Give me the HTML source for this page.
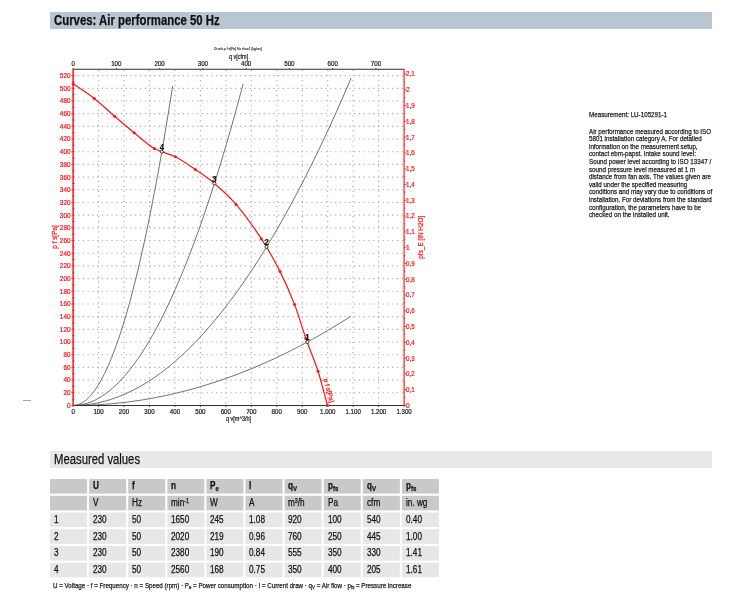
<!DOCTYPE html>
<html lang="en"><head><meta charset="utf-8"><title>Curves: Air performance 50 Hz</title>
<style>
html,body{margin:0;padding:0;background:#fff}
body{width:750px;height:600px;position:relative;overflow:hidden;will-change:transform;-webkit-text-stroke:.25px currentColor;font-family:"Liberation Sans",Arial,sans-serif;color:#111}
.bar{position:absolute;left:50px;width:662.4px;overflow:hidden;white-space:nowrap}
.bar span,.para div,.para p,.legend span{display:inline-block;transform-origin:0 50%;white-space:nowrap}
#t1{top:12px;height:16.8px;background:#b9c5d1;font-weight:bold;font-size:14px;line-height:16.6px}
#t1 span{transform:scaleX(.812);margin-left:4.3px}
#t2{top:451.2px;height:16.8px;background:#e8e8e8;font-size:14px;line-height:17.4px}
#t2 span{transform:scaleX(.807);margin-left:4px}
#chart{position:absolute;left:0;top:0}
#chart text{font-family:"Liberation Sans",Arial,sans-serif;stroke-width:.22px;paint-order:stroke}
.para{position:absolute;left:589.2px;top:111.05px;font-size:7.6px;line-height:7.6px;color:#1a1a1a}
.para div,.para p{display:block;margin:0;transform:scaleX(.822);height:7.6px}
.para p{margin-bottom:9px}
.tbl{position:absolute;z-index:0;left:50.1px;top:478.65px;display:grid;grid-template-columns:repeat(10,37.1px);grid-auto-rows:14.6px;column-gap:2px;row-gap:2.15px;font-size:10px}
.tbg{position:absolute;left:0;top:0;z-index:-1}
.c{line-height:14.8px;overflow:hidden;white-space:nowrap}
.c span{display:inline-block;position:relative;top:.7px;transform-origin:0 50%;transform:scaleX(.82);margin-left:3.8px}
.c.b{font-weight:bold}
sub,sup{font-size:7.4px;line-height:0}
sub{vertical-align:-1.6px}
sup{vertical-align:3.2px;font-size:6.5px}
.legend{position:absolute;left:53.4px;top:581.2px;font-size:7.5px;line-height:9px;color:#1a1a1a;white-space:nowrap}
.legend span{transform:scaleX(.827)}
.legend sub{font-size:5.2px;vertical-align:-1.4px}
.dash{position:absolute;left:23px;top:399.5px;width:7.5px;height:1px;background:#a8a8a8}
</style></head><body>
<div class="bar" id="t1"><span>Curves: Air performance 50 Hz</span></div>
<svg id="chart" width="750" height="440" viewBox="0 0 750 440">
<g stroke="#aaaaaa" stroke-width="1.15" fill="none">
<path stroke-dasharray="1.15 3.61" d="M78.10 392.76H403.08"/>
<path stroke-dasharray="1.15 3.61" d="M78.10 380.08H403.08"/>
<path stroke-dasharray="1.15 3.61" d="M78.10 367.39H403.08"/>
<path stroke-dasharray="1.15 3.61" d="M78.10 354.71H403.08"/>
<path stroke-dasharray="1.15 3.61" d="M78.10 342.02H403.08"/>
<path stroke-dasharray="1.15 3.61" d="M78.10 329.33H403.08"/>
<path stroke-dasharray="1.15 3.61" d="M78.10 316.65H403.08"/>
<path stroke-dasharray="1.15 3.61" d="M78.10 303.96H403.08"/>
<path stroke-dasharray="1.15 3.61" d="M78.10 291.28H403.08"/>
<path stroke-dasharray="1.15 3.61" d="M78.10 278.59H403.08"/>
<path stroke-dasharray="1.15 3.61" d="M78.10 265.90H403.08"/>
<path stroke-dasharray="1.15 3.61" d="M78.10 253.22H403.08"/>
<path stroke-dasharray="1.15 3.61" d="M78.10 240.53H403.08"/>
<path stroke-dasharray="1.15 3.61" d="M78.10 227.85H403.08"/>
<path stroke-dasharray="1.15 3.61" d="M78.10 215.16H403.08"/>
<path stroke-dasharray="1.15 3.61" d="M78.10 202.47H403.08"/>
<path stroke-dasharray="1.15 3.61" d="M78.10 189.79H403.08"/>
<path stroke-dasharray="1.15 3.61" d="M78.10 177.10H403.08"/>
<path stroke-dasharray="1.15 3.61" d="M78.10 164.42H403.08"/>
<path stroke-dasharray="1.15 3.61" d="M78.10 151.73H403.08"/>
<path stroke-dasharray="1.15 3.61" d="M78.10 139.04H403.08"/>
<path stroke-dasharray="1.15 3.61" d="M78.10 126.36H403.08"/>
<path stroke-dasharray="1.15 3.61" d="M78.10 113.67H403.08"/>
<path stroke-dasharray="1.15 3.61" d="M78.10 100.99H403.08"/>
<path stroke-dasharray="1.15 3.61" d="M78.10 88.30H403.08"/>
<path stroke-dasharray="1.15 3.61" d="M78.10 75.61H403.08"/>
<path stroke-dasharray="1.15 3.89" d="M98.56 69.85V404.45"/>
<path stroke-dasharray="1.15 3.89" d="M124.02 69.85V404.45"/>
<path stroke-dasharray="1.15 3.89" d="M149.48 69.85V404.45"/>
<path stroke-dasharray="1.15 3.89" d="M174.94 69.85V404.45"/>
<path stroke-dasharray="1.15 3.89" d="M200.40 69.85V404.45"/>
<path stroke-dasharray="1.15 3.89" d="M225.86 69.85V404.45"/>
<path stroke-dasharray="1.15 3.89" d="M251.32 69.85V404.45"/>
<path stroke-dasharray="1.15 3.89" d="M276.78 69.85V404.45"/>
<path stroke-dasharray="1.15 3.89" d="M302.24 69.85V404.45"/>
<path stroke-dasharray="1.15 3.89" d="M327.70 69.85V404.45"/>
<path stroke-dasharray="1.15 3.89" d="M353.16 69.85V404.45"/>
<path stroke-dasharray="1.15 3.89" d="M378.62 69.85V404.45"/>
</g>
<g stroke="#606060" stroke-width="0.9" fill="none">
<path d="M73.10 405.45L77.73 405.43L82.35 405.35L86.98 405.23L91.60 405.05L96.23 404.83L100.85 404.56L105.48 404.24L110.10 403.87L114.73 403.45L119.35 402.98L123.98 402.46L128.60 401.89L133.23 401.27L137.85 400.60L142.48 399.89L147.10 399.12L151.73 398.30L156.35 397.44L160.98 396.52L165.60 395.56L170.23 394.54L174.86 393.48L179.48 392.37L184.11 391.20L188.73 389.99L193.36 388.73L197.98 387.42L202.61 386.06L207.23 384.65L211.86 383.19L216.48 381.68L221.11 380.12L225.73 378.52L230.36 376.86L234.98 375.15L239.61 373.40L244.23 371.59L248.86 369.74L253.48 367.83L258.11 365.88L262.73 363.87L267.36 361.82L271.99 359.72L276.61 357.57L281.24 355.37L285.86 353.12L290.49 350.82L295.11 348.47L299.74 346.07L304.36 343.62L308.99 341.12L313.61 338.57L318.24 335.98L322.86 333.33L327.49 330.63L332.11 327.89L336.74 325.09L341.36 322.25L345.99 319.36L350.61 316.41"/>
<path d="M73.10 405.45L77.73 405.36L82.37 405.09L87.00 404.63L91.63 403.99L96.27 403.18L100.90 402.18L105.54 400.99L110.17 399.63L114.80 398.08L119.44 396.36L124.07 394.45L128.70 392.35L133.34 390.08L137.97 387.63L142.61 384.99L147.24 382.17L151.87 379.17L156.51 375.99L161.14 372.62L165.77 369.07L170.41 365.35L175.04 361.44L179.68 357.34L184.31 353.07L188.94 348.61L193.58 343.98L198.21 339.16L202.84 334.15L207.48 328.97L212.11 323.60L216.75 318.06L221.38 312.33L226.01 306.42L230.65 300.32L235.28 294.05L239.91 287.59L244.55 280.95L249.18 274.13L253.82 267.13L258.45 259.95L263.08 252.58L267.72 245.03L272.35 237.30L276.98 229.39L281.62 221.30L286.25 213.02L290.88 204.57L295.52 195.93L300.15 187.11L304.79 178.10L309.42 168.92L314.05 159.55L318.69 150.00L323.32 140.27L327.95 130.36L332.59 120.27L337.22 109.99L341.86 99.53L346.49 88.89L351.12 78.07"/>
<path d="M73.10 405.45L75.93 405.36L78.77 405.09L81.60 404.65L84.44 404.02L87.27 403.22L90.11 402.23L92.94 401.07L95.78 399.73L98.61 398.21L101.45 396.52L104.28 394.64L107.11 392.59L109.95 390.35L112.78 387.94L115.62 385.35L118.45 382.58L121.29 379.63L124.12 376.51L126.96 373.20L129.79 369.72L132.63 366.05L135.46 362.21L138.29 358.19L141.13 353.99L143.96 349.61L146.80 345.06L149.63 340.32L152.47 335.41L155.30 330.32L158.14 325.05L160.97 319.60L163.81 313.97L166.64 308.16L169.47 302.18L172.31 296.01L175.14 289.67L177.98 283.15L180.81 276.45L183.65 269.57L186.48 262.51L189.32 255.28L192.15 247.86L194.99 240.27L197.82 232.50L200.65 224.54L203.49 216.41L206.32 208.11L209.16 199.62L211.99 190.95L214.83 182.11L217.66 173.09L220.50 163.89L223.33 154.50L226.17 144.95L229.00 135.21L231.83 125.29L234.67 115.20L237.50 104.92L240.34 94.47L243.17 83.84"/>
<path d="M73.10 405.45L74.76 405.36L76.42 405.10L78.08 404.65L79.74 404.03L81.40 403.23L83.05 402.26L84.71 401.10L86.37 399.77L88.03 398.26L89.69 396.58L91.35 394.72L93.01 392.67L94.67 390.46L96.33 388.06L97.99 385.49L99.65 382.74L101.31 379.81L102.96 376.71L104.62 373.42L106.28 369.96L107.94 366.33L109.60 362.51L111.26 358.52L112.92 354.35L114.58 350.00L116.24 345.48L117.90 340.78L119.56 335.90L121.22 330.84L122.87 325.61L124.53 320.19L126.19 314.61L127.85 308.84L129.51 302.89L131.17 296.77L132.83 290.47L134.49 284.00L136.15 277.34L137.81 270.51L139.47 263.50L141.12 256.32L142.78 248.96L144.44 241.41L146.10 233.70L147.76 225.80L149.42 217.73L151.08 209.48L152.74 201.05L154.40 192.44L156.06 183.66L157.72 174.70L159.38 165.56L161.03 156.25L162.69 146.76L164.35 137.09L166.01 127.24L167.67 117.21L169.33 107.01L170.99 96.63L172.65 86.07"/>
</g>
<path d="M73.10 69.3H404.08" stroke="#303030" stroke-width="1.1"/>
<path d="M73.10 405.45H404.08" stroke="#303030" stroke-width="1.1"/>
<path d="M73.10 405.45v1.6M98.56 405.45v1.6M124.02 405.45v1.6M149.48 405.45v1.6M174.94 405.45v1.6M200.40 405.45v1.6M225.86 405.45v1.6M251.32 405.45v1.6M276.78 405.45v1.6M302.24 405.45v1.6M327.70 405.45v1.6M353.16 405.45v1.6M378.62 405.45v1.6M404.08 405.45v1.6M73.10 69.3v-1.4M116.36 69.3v-1.4M159.62 69.3v-1.4M202.88 69.3v-1.4M246.14 69.3v-1.4M289.40 69.3v-1.4M332.66 69.3v-1.4M375.92 69.3v-1.4" stroke="#303030" stroke-width="0.8"/>
<path d="M73.10 68.8V405.95" stroke="#ff1414" stroke-width="1.5"/>
<path d="M404.08 68.8V405.95" stroke="#ff1414" stroke-width="1.15"/>
<path d="M71.50 405.45h3.2M72.30 399.11h2.4M71.50 392.76h3.2M72.30 386.42h2.4M71.50 380.08h3.2M72.30 373.74h2.4M71.50 367.39h3.2M72.30 361.05h2.4M71.50 354.71h3.2M72.30 348.36h2.4M71.50 342.02h3.2M72.30 335.68h2.4M71.50 329.33h3.2M72.30 322.99h2.4M71.50 316.65h3.2M72.30 310.31h2.4M71.50 303.96h3.2M72.30 297.62h2.4M71.50 291.28h3.2M72.30 284.93h2.4M71.50 278.59h3.2M72.30 272.25h2.4M71.50 265.90h3.2M72.30 259.56h2.4M71.50 253.22h3.2M72.30 246.88h2.4M71.50 240.53h3.2M72.30 234.19h2.4M71.50 227.85h3.2M72.30 221.50h2.4M71.50 215.16h3.2M72.30 208.82h2.4M71.50 202.47h3.2M72.30 196.13h2.4M71.50 189.79h3.2M72.30 183.44h2.4M71.50 177.10h3.2M72.30 170.76h2.4M71.50 164.42h3.2M72.30 158.07h2.4M71.50 151.73h3.2M72.30 145.39h2.4M71.50 139.04h3.2M72.30 132.70h2.4M71.50 126.36h3.2M72.30 120.01h2.4M71.50 113.67h3.2M72.30 107.33h2.4M71.50 100.99h3.2M72.30 94.64h2.4M71.50 88.30h3.2M72.30 81.96h2.4M71.50 75.61h3.2M404.08 405.45h2.2M404.08 397.56h1.2M404.08 389.67h2.2M404.08 381.78h1.2M404.08 373.89h2.2M404.08 366.00h1.2M404.08 358.11h2.2M404.08 350.22h1.2M404.08 342.33h2.2M404.08 334.44h1.2M404.08 326.55h2.2M404.08 318.66h1.2M404.08 310.77h2.2M404.08 302.88h1.2M404.08 294.99h2.2M404.08 287.10h1.2M404.08 279.21h2.2M404.08 271.32h1.2M404.08 263.43h2.2M404.08 255.54h1.2M404.08 247.65h2.2M404.08 239.76h1.2M404.08 231.87h2.2M404.08 223.98h1.2M404.08 216.09h2.2M404.08 208.20h1.2M404.08 200.31h2.2M404.08 192.42h1.2M404.08 184.53h2.2M404.08 176.64h1.2M404.08 168.75h2.2M404.08 160.86h1.2M404.08 152.97h2.2M404.08 145.08h1.2M404.08 137.19h2.2M404.08 129.30h1.2M404.08 121.41h2.2M404.08 113.52h1.2M404.08 105.63h2.2M404.08 97.74h1.2M404.08 89.85h2.2M404.08 81.96h1.2M404.08 74.07h2.2" stroke="#ff1414" stroke-width="0.8"/>
<path d="M73.10 83.86C76.62 86.29 87.32 93.06 94.23 98.45C101.15 103.84 107.94 110.50 114.60 116.21C121.26 121.92 127.58 127.31 134.20 132.70C140.82 138.09 147.44 144.54 154.32 148.56C161.19 152.58 168.62 153.32 175.45 156.80C182.28 160.29 188.82 165.05 195.31 169.49C201.80 173.93 207.61 177.63 214.40 183.44C221.19 189.26 228.24 195.18 236.04 204.38C243.85 213.57 253.91 227.42 261.25 238.63C268.59 249.84 274.53 260.62 280.09 271.61C285.65 282.61 290.32 293.50 294.60 304.60C298.89 315.70 301.90 327.11 305.80 338.21C309.71 349.31 314.42 359.99 318.03 371.20C321.63 382.40 325.88 399.74 327.45 405.45" stroke="#ff1414" stroke-width="1.2" fill="none"/>
<circle cx="73.10" cy="83.86" r="1.5" fill="#ff1414"/>
<circle cx="94.23" cy="98.45" r="1.5" fill="#ff1414"/>
<circle cx="114.60" cy="116.21" r="1.5" fill="#ff1414"/>
<circle cx="134.20" cy="132.70" r="1.5" fill="#ff1414"/>
<circle cx="154.32" cy="148.56" r="1.5" fill="#ff1414"/>
<circle cx="175.45" cy="156.80" r="1.5" fill="#ff1414"/>
<circle cx="195.31" cy="169.49" r="1.5" fill="#ff1414"/>
<circle cx="214.40" cy="183.44" r="1.5" fill="#ff1414"/>
<circle cx="236.04" cy="204.38" r="1.5" fill="#ff1414"/>
<circle cx="261.25" cy="238.63" r="1.5" fill="#ff1414"/>
<circle cx="280.09" cy="271.61" r="1.5" fill="#ff1414"/>
<circle cx="294.60" cy="304.60" r="1.5" fill="#ff1414"/>
<circle cx="305.80" cy="338.21" r="1.5" fill="#ff1414"/>
<circle cx="318.03" cy="371.20" r="1.5" fill="#ff1414"/>
<circle cx="327.45" cy="405.45" r="1.5" fill="#ff1414"/>
<circle cx="307.33" cy="342.02" r="1.55" fill="#fff" stroke="#111" stroke-width="0.8"/>
<text x="307.43" y="340.32" font-size="8.4" text-anchor="middle" textLength="4.30" lengthAdjust="spacingAndGlyphs" font-weight="bold" fill="#111" stroke="#111">1</text>
<circle cx="266.60" cy="246.88" r="1.55" fill="#fff" stroke="#111" stroke-width="0.8"/>
<text x="266.70" y="245.18" font-size="8.4" text-anchor="middle" textLength="4.30" lengthAdjust="spacingAndGlyphs" font-weight="bold" fill="#111" stroke="#111">2</text>
<circle cx="214.40" cy="183.44" r="1.55" fill="#fff" stroke="#111" stroke-width="0.8"/>
<text x="214.50" y="181.75" font-size="8.4" text-anchor="middle" textLength="4.30" lengthAdjust="spacingAndGlyphs" font-weight="bold" fill="#111" stroke="#111">3</text>
<circle cx="161.83" cy="151.73" r="1.55" fill="#fff" stroke="#111" stroke-width="0.8"/>
<text x="161.93" y="150.03" font-size="8.4" text-anchor="middle" textLength="4.30" lengthAdjust="spacingAndGlyphs" font-weight="bold" fill="#111" stroke="#111">4</text>
<text x="70.50" y="407.85" font-size="6.7" text-anchor="end" textLength="3.55" lengthAdjust="spacingAndGlyphs" fill="#ff1414" stroke="#ff1414">0</text>
<text x="70.50" y="395.16" font-size="6.7" text-anchor="end" textLength="7.10" lengthAdjust="spacingAndGlyphs" fill="#ff1414" stroke="#ff1414">20</text>
<text x="70.50" y="382.48" font-size="6.7" text-anchor="end" textLength="7.10" lengthAdjust="spacingAndGlyphs" fill="#ff1414" stroke="#ff1414">40</text>
<text x="70.50" y="369.79" font-size="6.7" text-anchor="end" textLength="7.10" lengthAdjust="spacingAndGlyphs" fill="#ff1414" stroke="#ff1414">60</text>
<text x="70.50" y="357.11" font-size="6.7" text-anchor="end" textLength="7.10" lengthAdjust="spacingAndGlyphs" fill="#ff1414" stroke="#ff1414">80</text>
<text x="70.50" y="344.42" font-size="6.7" text-anchor="end" textLength="10.65" lengthAdjust="spacingAndGlyphs" fill="#ff1414" stroke="#ff1414">100</text>
<text x="70.50" y="331.73" font-size="6.7" text-anchor="end" textLength="10.65" lengthAdjust="spacingAndGlyphs" fill="#ff1414" stroke="#ff1414">120</text>
<text x="70.50" y="319.05" font-size="6.7" text-anchor="end" textLength="10.65" lengthAdjust="spacingAndGlyphs" fill="#ff1414" stroke="#ff1414">140</text>
<text x="70.50" y="306.36" font-size="6.7" text-anchor="end" textLength="10.65" lengthAdjust="spacingAndGlyphs" fill="#ff1414" stroke="#ff1414">160</text>
<text x="70.50" y="293.68" font-size="6.7" text-anchor="end" textLength="10.65" lengthAdjust="spacingAndGlyphs" fill="#ff1414" stroke="#ff1414">180</text>
<text x="70.50" y="280.99" font-size="6.7" text-anchor="end" textLength="10.65" lengthAdjust="spacingAndGlyphs" fill="#ff1414" stroke="#ff1414">200</text>
<text x="70.50" y="268.30" font-size="6.7" text-anchor="end" textLength="10.65" lengthAdjust="spacingAndGlyphs" fill="#ff1414" stroke="#ff1414">220</text>
<text x="70.50" y="255.62" font-size="6.7" text-anchor="end" textLength="10.65" lengthAdjust="spacingAndGlyphs" fill="#ff1414" stroke="#ff1414">240</text>
<text x="70.50" y="242.93" font-size="6.7" text-anchor="end" textLength="10.65" lengthAdjust="spacingAndGlyphs" fill="#ff1414" stroke="#ff1414">260</text>
<text x="70.50" y="230.25" font-size="6.7" text-anchor="end" textLength="10.65" lengthAdjust="spacingAndGlyphs" fill="#ff1414" stroke="#ff1414">280</text>
<text x="70.50" y="217.56" font-size="6.7" text-anchor="end" textLength="10.65" lengthAdjust="spacingAndGlyphs" fill="#ff1414" stroke="#ff1414">300</text>
<text x="70.50" y="204.87" font-size="6.7" text-anchor="end" textLength="10.65" lengthAdjust="spacingAndGlyphs" fill="#ff1414" stroke="#ff1414">320</text>
<text x="70.50" y="192.19" font-size="6.7" text-anchor="end" textLength="10.65" lengthAdjust="spacingAndGlyphs" fill="#ff1414" stroke="#ff1414">340</text>
<text x="70.50" y="179.50" font-size="6.7" text-anchor="end" textLength="10.65" lengthAdjust="spacingAndGlyphs" fill="#ff1414" stroke="#ff1414">360</text>
<text x="70.50" y="166.82" font-size="6.7" text-anchor="end" textLength="10.65" lengthAdjust="spacingAndGlyphs" fill="#ff1414" stroke="#ff1414">380</text>
<text x="70.50" y="154.13" font-size="6.7" text-anchor="end" textLength="10.65" lengthAdjust="spacingAndGlyphs" fill="#ff1414" stroke="#ff1414">400</text>
<text x="70.50" y="141.44" font-size="6.7" text-anchor="end" textLength="10.65" lengthAdjust="spacingAndGlyphs" fill="#ff1414" stroke="#ff1414">420</text>
<text x="70.50" y="128.76" font-size="6.7" text-anchor="end" textLength="10.65" lengthAdjust="spacingAndGlyphs" fill="#ff1414" stroke="#ff1414">440</text>
<text x="70.50" y="116.07" font-size="6.7" text-anchor="end" textLength="10.65" lengthAdjust="spacingAndGlyphs" fill="#ff1414" stroke="#ff1414">460</text>
<text x="70.50" y="103.39" font-size="6.7" text-anchor="end" textLength="10.65" lengthAdjust="spacingAndGlyphs" fill="#ff1414" stroke="#ff1414">480</text>
<text x="70.50" y="90.70" font-size="6.7" text-anchor="end" textLength="10.65" lengthAdjust="spacingAndGlyphs" fill="#ff1414" stroke="#ff1414">500</text>
<text x="70.50" y="78.01" font-size="6.7" text-anchor="end" textLength="10.65" lengthAdjust="spacingAndGlyphs" fill="#ff1414" stroke="#ff1414">520</text>
<text x="73.10" y="413.80" font-size="6.7" text-anchor="middle" textLength="3.45" lengthAdjust="spacingAndGlyphs" fill="#222" stroke="#222">0</text>
<text x="98.56" y="413.80" font-size="6.7" text-anchor="middle" textLength="10.35" lengthAdjust="spacingAndGlyphs" fill="#222" stroke="#222">100</text>
<text x="124.02" y="413.80" font-size="6.7" text-anchor="middle" textLength="10.35" lengthAdjust="spacingAndGlyphs" fill="#222" stroke="#222">200</text>
<text x="149.48" y="413.80" font-size="6.7" text-anchor="middle" textLength="10.35" lengthAdjust="spacingAndGlyphs" fill="#222" stroke="#222">300</text>
<text x="174.94" y="413.80" font-size="6.7" text-anchor="middle" textLength="10.35" lengthAdjust="spacingAndGlyphs" fill="#222" stroke="#222">400</text>
<text x="200.40" y="413.80" font-size="6.7" text-anchor="middle" textLength="10.35" lengthAdjust="spacingAndGlyphs" fill="#222" stroke="#222">500</text>
<text x="225.86" y="413.80" font-size="6.7" text-anchor="middle" textLength="10.35" lengthAdjust="spacingAndGlyphs" fill="#222" stroke="#222">600</text>
<text x="251.32" y="413.80" font-size="6.7" text-anchor="middle" textLength="10.35" lengthAdjust="spacingAndGlyphs" fill="#222" stroke="#222">700</text>
<text x="276.78" y="413.80" font-size="6.7" text-anchor="middle" textLength="10.35" lengthAdjust="spacingAndGlyphs" fill="#222" stroke="#222">800</text>
<text x="302.24" y="413.80" font-size="6.7" text-anchor="middle" textLength="10.35" lengthAdjust="spacingAndGlyphs" fill="#222" stroke="#222">900</text>
<text x="327.70" y="413.80" font-size="6.7" text-anchor="middle" textLength="15.40" lengthAdjust="spacingAndGlyphs" fill="#222" stroke="#222">1.000</text>
<text x="353.16" y="413.80" font-size="6.7" text-anchor="middle" textLength="15.40" lengthAdjust="spacingAndGlyphs" fill="#222" stroke="#222">1.100</text>
<text x="378.62" y="413.80" font-size="6.7" text-anchor="middle" textLength="15.40" lengthAdjust="spacingAndGlyphs" fill="#222" stroke="#222">1.200</text>
<text x="404.08" y="413.80" font-size="6.7" text-anchor="middle" textLength="15.40" lengthAdjust="spacingAndGlyphs" fill="#222" stroke="#222">1.300</text>
<text x="73.10" y="66.00" font-size="6.7" text-anchor="middle" textLength="3.45" lengthAdjust="spacingAndGlyphs" fill="#222" stroke="#222">0</text>
<text x="116.36" y="66.00" font-size="6.7" text-anchor="middle" textLength="10.35" lengthAdjust="spacingAndGlyphs" fill="#222" stroke="#222">100</text>
<text x="159.62" y="66.00" font-size="6.7" text-anchor="middle" textLength="10.35" lengthAdjust="spacingAndGlyphs" fill="#222" stroke="#222">200</text>
<text x="202.88" y="66.00" font-size="6.7" text-anchor="middle" textLength="10.35" lengthAdjust="spacingAndGlyphs" fill="#222" stroke="#222">300</text>
<text x="246.14" y="66.00" font-size="6.7" text-anchor="middle" textLength="10.35" lengthAdjust="spacingAndGlyphs" fill="#222" stroke="#222">400</text>
<text x="289.40" y="66.00" font-size="6.7" text-anchor="middle" textLength="10.35" lengthAdjust="spacingAndGlyphs" fill="#222" stroke="#222">500</text>
<text x="332.66" y="66.00" font-size="6.7" text-anchor="middle" textLength="10.35" lengthAdjust="spacingAndGlyphs" fill="#222" stroke="#222">600</text>
<text x="375.92" y="66.00" font-size="6.7" text-anchor="middle" textLength="10.35" lengthAdjust="spacingAndGlyphs" fill="#222" stroke="#222">700</text>
<text x="406.08" y="407.85" font-size="6.7" textLength="3.70" lengthAdjust="spacingAndGlyphs" fill="#ff1414" stroke="#ff1414">0</text>
<text x="406.08" y="392.07" font-size="6.7" textLength="8.70" lengthAdjust="spacingAndGlyphs" fill="#ff1414" stroke="#ff1414">0,1</text>
<text x="406.08" y="376.29" font-size="6.7" textLength="8.70" lengthAdjust="spacingAndGlyphs" fill="#ff1414" stroke="#ff1414">0,2</text>
<text x="406.08" y="360.51" font-size="6.7" textLength="8.70" lengthAdjust="spacingAndGlyphs" fill="#ff1414" stroke="#ff1414">0,3</text>
<text x="406.08" y="344.73" font-size="6.7" textLength="8.70" lengthAdjust="spacingAndGlyphs" fill="#ff1414" stroke="#ff1414">0,4</text>
<text x="406.08" y="328.95" font-size="6.7" textLength="8.70" lengthAdjust="spacingAndGlyphs" fill="#ff1414" stroke="#ff1414">0,5</text>
<text x="406.08" y="313.17" font-size="6.7" textLength="8.70" lengthAdjust="spacingAndGlyphs" fill="#ff1414" stroke="#ff1414">0,6</text>
<text x="406.08" y="297.39" font-size="6.7" textLength="8.70" lengthAdjust="spacingAndGlyphs" fill="#ff1414" stroke="#ff1414">0,7</text>
<text x="406.08" y="281.61" font-size="6.7" textLength="8.70" lengthAdjust="spacingAndGlyphs" fill="#ff1414" stroke="#ff1414">0,8</text>
<text x="406.08" y="265.83" font-size="6.7" textLength="8.70" lengthAdjust="spacingAndGlyphs" fill="#ff1414" stroke="#ff1414">0,9</text>
<text x="406.08" y="250.05" font-size="6.7" textLength="3.70" lengthAdjust="spacingAndGlyphs" fill="#ff1414" stroke="#ff1414">1</text>
<text x="406.08" y="234.27" font-size="6.7" textLength="8.70" lengthAdjust="spacingAndGlyphs" fill="#ff1414" stroke="#ff1414">1,1</text>
<text x="406.08" y="218.49" font-size="6.7" textLength="8.70" lengthAdjust="spacingAndGlyphs" fill="#ff1414" stroke="#ff1414">1,2</text>
<text x="406.08" y="202.71" font-size="6.7" textLength="8.70" lengthAdjust="spacingAndGlyphs" fill="#ff1414" stroke="#ff1414">1,3</text>
<text x="406.08" y="186.93" font-size="6.7" textLength="8.70" lengthAdjust="spacingAndGlyphs" fill="#ff1414" stroke="#ff1414">1,4</text>
<text x="406.08" y="171.15" font-size="6.7" textLength="8.70" lengthAdjust="spacingAndGlyphs" fill="#ff1414" stroke="#ff1414">1,5</text>
<text x="406.08" y="155.37" font-size="6.7" textLength="8.70" lengthAdjust="spacingAndGlyphs" fill="#ff1414" stroke="#ff1414">1,6</text>
<text x="406.08" y="139.59" font-size="6.7" textLength="8.70" lengthAdjust="spacingAndGlyphs" fill="#ff1414" stroke="#ff1414">1,7</text>
<text x="406.08" y="123.81" font-size="6.7" textLength="8.70" lengthAdjust="spacingAndGlyphs" fill="#ff1414" stroke="#ff1414">1,8</text>
<text x="406.08" y="108.03" font-size="6.7" textLength="8.70" lengthAdjust="spacingAndGlyphs" fill="#ff1414" stroke="#ff1414">1,9</text>
<text x="406.08" y="92.25" font-size="6.7" textLength="3.70" lengthAdjust="spacingAndGlyphs" fill="#ff1414" stroke="#ff1414">2</text>
<text x="406.08" y="76.47" font-size="6.7" textLength="8.70" lengthAdjust="spacingAndGlyphs" fill="#ff1414" stroke="#ff1414">2,1</text>
<text x="238.60" y="59.40" font-size="6.7" text-anchor="middle" textLength="19.20" lengthAdjust="spacingAndGlyphs" fill="#222" stroke="#222">q v[cfm]</text>
<text x="238.00" y="50.00" font-size="3.6" text-anchor="middle" textLength="47.80" lengthAdjust="spacingAndGlyphs" fill="#555" stroke="#555" stroke-width="0">Druck p f s[Pa] für rho=1 [kg/m³]</text>
<text x="238.60" y="420.60" font-size="6.7" text-anchor="middle" textLength="25.10" lengthAdjust="spacingAndGlyphs" fill="#222" stroke="#222">q v[m^3/h]</text>
<text x="0.00" y="0.00" font-size="6.7" text-anchor="middle" textLength="23.40" lengthAdjust="spacingAndGlyphs" fill="#ff1414" stroke="#ff1414" transform="translate(56.9 237) rotate(-90)">p f s[Pa]</text>
<text x="0.00" y="0.00" font-size="6.7" text-anchor="middle" textLength="43.00" lengthAdjust="spacingAndGlyphs" fill="#ff1414" stroke="#ff1414" transform="translate(422.8 237.2) rotate(-90)">pfs_E [IN H2O]</text>
<text x="0.00" y="0.00" font-size="6.3" textLength="24.60" lengthAdjust="spacingAndGlyphs" fill="#ff1414" stroke="#ff1414" transform="translate(323.5 379.3) rotate(74.5)">p f s[Pa]</text>
</svg>
<div class="dash"></div>
<div class="para"><p>Measurement: LU-105291-1</p><div>Air performance measured according to ISO</div><div>5801 installation category A. For detailed</div><div>information on the measurement setup,</div><div>contact ebm-papst. Intake sound level:</div><div>Sound power level according to ISO 13347 /</div><div>sound pressure level measured at 1 m</div><div>distance from fan axis. The values given are</div><div>valid under the specified measuring</div><div>conditions and may vary due to conditions of</div><div>installation. For deviations from the standard</div><div>configuration, the parameters have to be</div><div>checked on the installed unit.</div></div>
<div class="bar" id="t2"><span>Measured values</span></div>
<div class="tbl"><svg class="tbg" width="392" height="100" viewBox="0 0 392 100"><rect x="0.00" y="0.00" width="37.05" height="14.6" fill="#c9c9c9"/><rect x="39.10" y="0.00" width="37.05" height="14.6" fill="#c9c9c9"/><rect x="78.20" y="0.00" width="37.05" height="14.6" fill="#c9c9c9"/><rect x="117.30" y="0.00" width="37.05" height="14.6" fill="#c9c9c9"/><rect x="156.40" y="0.00" width="37.05" height="14.6" fill="#c9c9c9"/><rect x="195.50" y="0.00" width="37.05" height="14.6" fill="#c9c9c9"/><rect x="234.60" y="0.00" width="37.05" height="14.6" fill="#c9c9c9"/><rect x="273.70" y="0.00" width="37.05" height="14.6" fill="#c9c9c9"/><rect x="312.80" y="0.00" width="37.05" height="14.6" fill="#c9c9c9"/><rect x="351.90" y="0.00" width="37.05" height="14.6" fill="#c9c9c9"/><rect x="0.00" y="16.75" width="37.05" height="14.6" fill="#c9c9c9"/><rect x="39.10" y="16.75" width="37.05" height="14.6" fill="#c9c9c9"/><rect x="78.20" y="16.75" width="37.05" height="14.6" fill="#c9c9c9"/><rect x="117.30" y="16.75" width="37.05" height="14.6" fill="#c9c9c9"/><rect x="156.40" y="16.75" width="37.05" height="14.6" fill="#c9c9c9"/><rect x="195.50" y="16.75" width="37.05" height="14.6" fill="#c9c9c9"/><rect x="234.60" y="16.75" width="37.05" height="14.6" fill="#c9c9c9"/><rect x="273.70" y="16.75" width="37.05" height="14.6" fill="#c9c9c9"/><rect x="312.80" y="16.75" width="37.05" height="14.6" fill="#c9c9c9"/><rect x="351.90" y="16.75" width="37.05" height="14.6" fill="#c9c9c9"/><rect x="0.00" y="33.50" width="37.05" height="14.6" fill="#e7e7e7"/><rect x="39.10" y="33.50" width="37.05" height="14.6" fill="#e7e7e7"/><rect x="78.20" y="33.50" width="37.05" height="14.6" fill="#e7e7e7"/><rect x="117.30" y="33.50" width="37.05" height="14.6" fill="#e7e7e7"/><rect x="156.40" y="33.50" width="37.05" height="14.6" fill="#e7e7e7"/><rect x="195.50" y="33.50" width="37.05" height="14.6" fill="#e7e7e7"/><rect x="234.60" y="33.50" width="37.05" height="14.6" fill="#e7e7e7"/><rect x="273.70" y="33.50" width="37.05" height="14.6" fill="#e7e7e7"/><rect x="312.80" y="33.50" width="37.05" height="14.6" fill="#e7e7e7"/><rect x="351.90" y="33.50" width="37.05" height="14.6" fill="#e7e7e7"/><rect x="0.00" y="50.25" width="37.05" height="14.6" fill="#e7e7e7"/><rect x="39.10" y="50.25" width="37.05" height="14.6" fill="#e7e7e7"/><rect x="78.20" y="50.25" width="37.05" height="14.6" fill="#e7e7e7"/><rect x="117.30" y="50.25" width="37.05" height="14.6" fill="#e7e7e7"/><rect x="156.40" y="50.25" width="37.05" height="14.6" fill="#e7e7e7"/><rect x="195.50" y="50.25" width="37.05" height="14.6" fill="#e7e7e7"/><rect x="234.60" y="50.25" width="37.05" height="14.6" fill="#e7e7e7"/><rect x="273.70" y="50.25" width="37.05" height="14.6" fill="#e7e7e7"/><rect x="312.80" y="50.25" width="37.05" height="14.6" fill="#e7e7e7"/><rect x="351.90" y="50.25" width="37.05" height="14.6" fill="#e7e7e7"/><rect x="0.00" y="67.00" width="37.05" height="14.6" fill="#e7e7e7"/><rect x="39.10" y="67.00" width="37.05" height="14.6" fill="#e7e7e7"/><rect x="78.20" y="67.00" width="37.05" height="14.6" fill="#e7e7e7"/><rect x="117.30" y="67.00" width="37.05" height="14.6" fill="#e7e7e7"/><rect x="156.40" y="67.00" width="37.05" height="14.6" fill="#e7e7e7"/><rect x="195.50" y="67.00" width="37.05" height="14.6" fill="#e7e7e7"/><rect x="234.60" y="67.00" width="37.05" height="14.6" fill="#e7e7e7"/><rect x="273.70" y="67.00" width="37.05" height="14.6" fill="#e7e7e7"/><rect x="312.80" y="67.00" width="37.05" height="14.6" fill="#e7e7e7"/><rect x="351.90" y="67.00" width="37.05" height="14.6" fill="#e7e7e7"/><rect x="0.00" y="83.75" width="37.05" height="14.6" fill="#e7e7e7"/><rect x="39.10" y="83.75" width="37.05" height="14.6" fill="#e7e7e7"/><rect x="78.20" y="83.75" width="37.05" height="14.6" fill="#e7e7e7"/><rect x="117.30" y="83.75" width="37.05" height="14.6" fill="#e7e7e7"/><rect x="156.40" y="83.75" width="37.05" height="14.6" fill="#e7e7e7"/><rect x="195.50" y="83.75" width="37.05" height="14.6" fill="#e7e7e7"/><rect x="234.60" y="83.75" width="37.05" height="14.6" fill="#e7e7e7"/><rect x="273.70" y="83.75" width="37.05" height="14.6" fill="#e7e7e7"/><rect x="312.80" y="83.75" width="37.05" height="14.6" fill="#e7e7e7"/><rect x="351.90" y="83.75" width="37.05" height="14.6" fill="#e7e7e7"/></svg>
<div class="c h b"><span></span></div><div class="c h b"><span>U</span></div><div class="c h b"><span>f</span></div><div class="c h b"><span>n</span></div><div class="c h b"><span>P<sub>e</sub></span></div><div class="c h b"><span>I</span></div><div class="c h b"><span>q<sub>V</sub></span></div><div class="c h b"><span>p<sub>fs</sub></span></div><div class="c h b"><span>q<sub>V</sub></span></div><div class="c h b"><span>p<sub>fs</sub></span></div>
<div class="c h"><span></span></div><div class="c h"><span>V</span></div><div class="c h"><span>Hz</span></div><div class="c h"><span>min<sup>-1</sup></span></div><div class="c h"><span>W</span></div><div class="c h"><span>A</span></div><div class="c h"><span>m<sup>3</sup>/h</span></div><div class="c h"><span>Pa</span></div><div class="c h"><span>cfm</span></div><div class="c h"><span>in. wg</span></div>
<div class="c"><span>1</span></div><div class="c"><span>230</span></div><div class="c"><span>50</span></div><div class="c"><span>1650</span></div><div class="c"><span>245</span></div><div class="c"><span>1.08</span></div><div class="c"><span>920</span></div><div class="c"><span>100</span></div><div class="c"><span>540</span></div><div class="c"><span>0.40</span></div>
<div class="c"><span>2</span></div><div class="c"><span>230</span></div><div class="c"><span>50</span></div><div class="c"><span>2020</span></div><div class="c"><span>219</span></div><div class="c"><span>0.96</span></div><div class="c"><span>760</span></div><div class="c"><span>250</span></div><div class="c"><span>445</span></div><div class="c"><span>1.00</span></div>
<div class="c"><span>3</span></div><div class="c"><span>230</span></div><div class="c"><span>50</span></div><div class="c"><span>2380</span></div><div class="c"><span>190</span></div><div class="c"><span>0.84</span></div><div class="c"><span>555</span></div><div class="c"><span>350</span></div><div class="c"><span>330</span></div><div class="c"><span>1.41</span></div>
<div class="c"><span>4</span></div><div class="c"><span>230</span></div><div class="c"><span>50</span></div><div class="c"><span>2560</span></div><div class="c"><span>168</span></div><div class="c"><span>0.75</span></div><div class="c"><span>350</span></div><div class="c"><span>400</span></div><div class="c"><span>205</span></div><div class="c"><span>1.61</span></div>
</div>
<div class="legend"><span>U = Voltage · f = Frequency · n = Speed (rpm) · P<sub>e</sub> = Power consumption · I = Current draw · q<sub>V</sub> = Air flow · p<sub>fs</sub> = Pressure increase</span></div>
</body></html>
